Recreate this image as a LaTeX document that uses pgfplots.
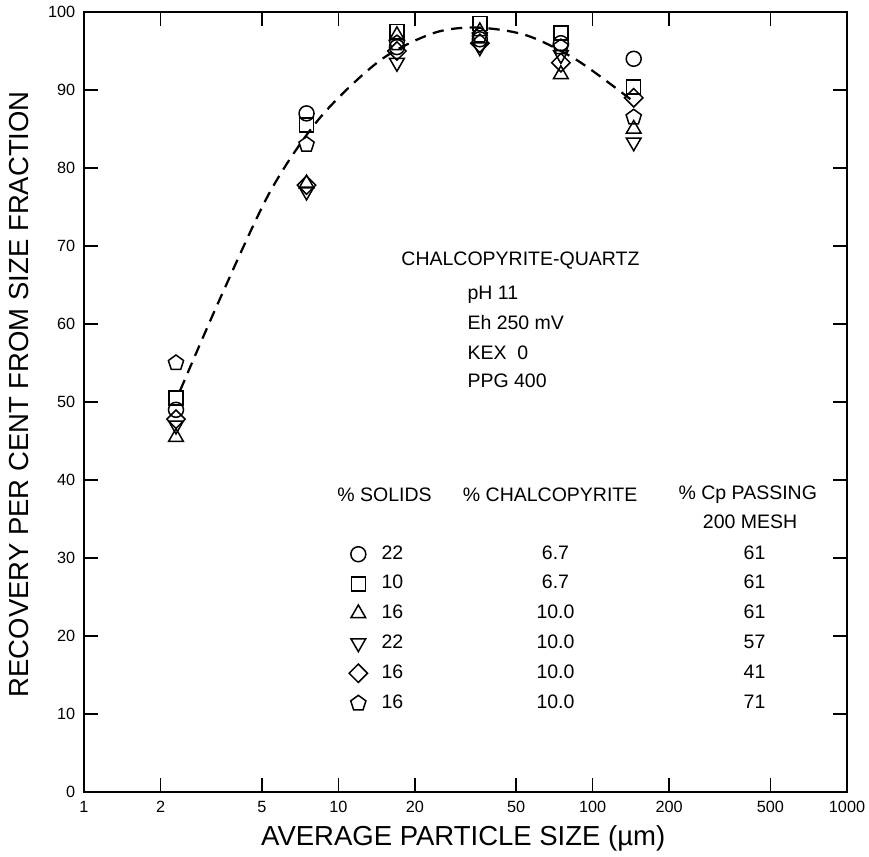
\documentclass[border=0pt]{standalone}
\usepackage{fontspec}
\setmainfont{Liberation Sans}
\usepackage{pgfplots}
\usetikzlibrary{plotmarks}
\pgfplotsset{compat=1.18}

\begin{document}
\begin{tikzpicture}
\begin{axis}[
    scale only axis, width=305.2pt, height=312pt,
    xmode=log, xmin=1, xmax=1000, ymin=0, ymax=100,
    xtick={1,2,5,10,20,50,100,200,500,1000},
    xticklabels={1,2,5,10,20,50,100,200,500,1000},
    ytick={0,10,...,100},
    tick align=inside, major tick length=5.5pt,
    axis line style={line width=0.7pt},
    every tick/.style={black, line width=0.6pt},
    tick label style={font=\fontsize{6.5}{7}\selectfont},
    /pgf/number format/assume math mode=true,
    xlabel={AVERAGE PARTICLE SIZE (µm)},
    ylabel={RECOVERY PER CENT FROM SIZE FRACTION},
    label style={font=\fontsize{11}{13}\selectfont},
    xlabel style={at={(axis description cs:0.497,-0.059)}, anchor=center},
    ylabel style={at={(axis description cs:-0.085,0.51)}, anchor=center},
    clip=false,
    legend style={draw=none, fill=none, at={(rel axis cs:0.337,0.323)}, anchor=north west,
        font=\fontsize{7.8}{8}\selectfont, row sep=4.9pt, column sep=5.6pt,
        nodes={inner sep=0pt}},
    legend cell align=left,
    legend image code/.code={\draw[#1] plot coordinates {(0cm,0cm)};},
]
% dashed fitted curve
\addplot[forget plot, smooth, line width=0.9pt, dash pattern=on 4.5pt off 3pt] coordinates {
    (2.39,51.5) (3.4,63) (5.4,77) (8.5,86.5) (14.6,93.8) (23.7,97.3)
    (35,98) (55,97) (87,93.8) (145,88.5)};

\addplot[only marks, mark=o, mark size=3pt, line width=0.6pt] coordinates {
    (2.3,49) (7.5,87) (17,95.5) (36,96.5) (75,96) (145,94)};
\addlegendentry{\makebox[45.6pt][l]{22}\makebox[48pt][c]{6.7}\makebox[111.2pt][c]{61}}

\addplot[only marks, mark=square, mark size=2.8pt, line width=0.6pt] coordinates {
    (2.3,50.5) (7.5,85.5) (17,97.5) (36,98.5) (75,97.3) (145,90.4)};
\addlegendentry{\makebox[45.6pt][l]{10}\makebox[48pt][c]{6.7}\makebox[111.2pt][c]{61}}

\addplot[only marks, mark=triangle, mark size=3.4pt, line width=0.6pt] coordinates {
    (2.3,45.5) (7.5,78) (17,97) (36,97.5) (75,92) (145,85)};
\addlegendentry{\makebox[45.6pt][l]{16}\makebox[48pt][c]{10.0}\makebox[111.2pt][c]{61}}

\addplot[only marks, mark=triangle, mark size=3.4pt, mark options={rotate=180}, line width=0.6pt] coordinates {
    (2.3,47) (7.5,77) (17,93.5) (36,95.5) (75,94.5) (145,83.3)};
\addlegendentry{\makebox[45.6pt][l]{22}\makebox[48pt][c]{10.0}\makebox[111.2pt][c]{57}}

\addplot[only marks, mark=square, mark size=2.6pt, mark options={rotate=45}, line width=0.6pt] coordinates {
    (2.3,47.8) (7.5,77.8) (17,95) (36,96) (75,93.5) (145,89)};
\addlegendentry{\makebox[45.6pt][l]{16}\makebox[48pt][c]{10.0}\makebox[111.2pt][c]{41}}

\addplot[only marks, mark=pentagon, mark size=3.2pt, line width=0.6pt] coordinates {
    (2.3,55) (7.5,83) (17,96) (36,97) (75,95.5) (145,86.5)};
\addlegendentry{\makebox[45.6pt][l]{16}\makebox[48pt][c]{10.0}\makebox[111.2pt][c]{71}}

\begin{scope}[every node/.style={font=\fontsize{7.8}{8}\selectfont, inner sep=0pt}]
\node[anchor=center] at (rel axis cs:0.572,0.681) {CHALCOPYRITE-QUARTZ};
\node[anchor=west] at (rel axis cs:0.502,0.638) {pH 11};
\node[anchor=west] at (rel axis cs:0.502,0.602) {Eh 250 mV};
\node[anchor=west] at (rel axis cs:0.502,0.563) {KEX \ 0};
\node[anchor=west] at (rel axis cs:0.502,0.527) {PPG 400};
\node[anchor=center] at (rel axis cs:0.394,0.381) {\% SOLIDS};
\node[anchor=center] at (rel axis cs:0.611,0.381) {\% CHALCOPYRITE};
\node[anchor=center] at (rel axis cs:0.870,0.381) {\% Cp PASSING};
\node[anchor=center] at (rel axis cs:0.873,0.346) {200 MESH};
\end{scope}
\end{axis}
\pgfresetboundingbox
\path[use as bounding box] ([xshift=-33.6pt,yshift=-25.6pt]current axis.south west)
    rectangle ([xshift=8.8pt,yshift=4.8pt]current axis.north east);
\end{tikzpicture}
\end{document}
